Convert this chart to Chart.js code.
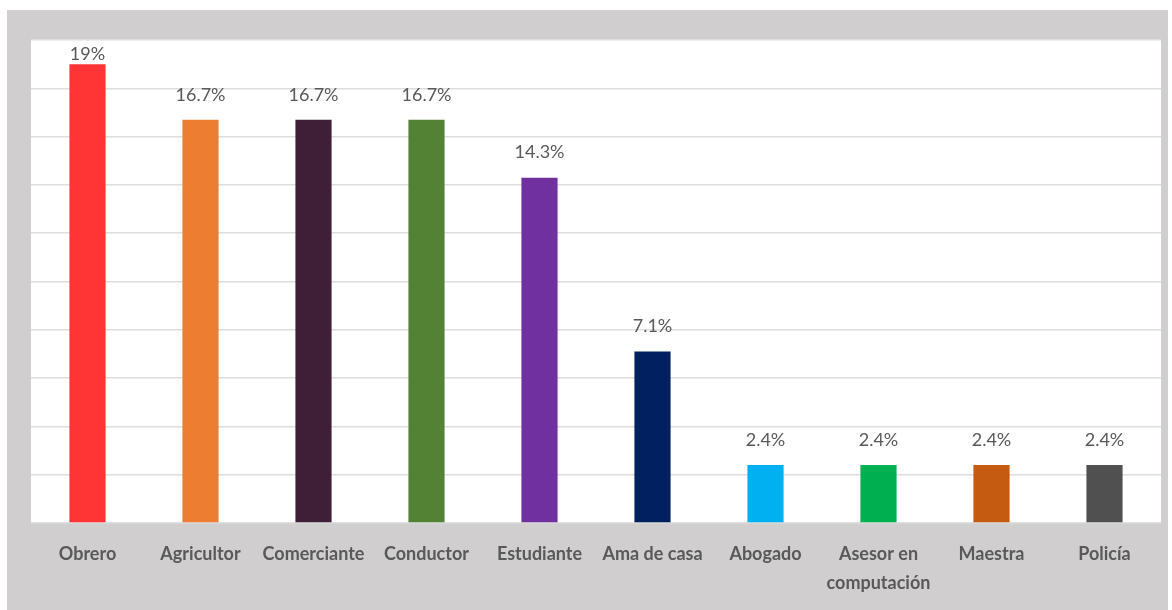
<!DOCTYPE html>
<html>
<head>
<meta charset="utf-8">
<script src="https://cdn.jsdelivr.net/npm/chart.js@4"></script>
<style>
  body { margin: 0; background: #fff; }
  #wrap { width: 1172px; height: 610px; }
</style>
</head>
<body>
<div id="wrap"><canvas id="chart" width="1172" height="610"></canvas></div>
<script>
const categories = ['Obrero', 'Agricultor', 'Comerciante', 'Conductor', 'Estudiante', 'Ama de casa', 'Abogado', ['Asesor en', 'computación'], 'Maestra', 'Policía'];
const percentages = [19, 16.7, 16.7, 16.7, 14.3, 7.1, 2.4, 2.4, 2.4, 2.4];
const barColors = ['#FF3535', '#ED7D31', '#3F1F38', '#548235', '#7030A0', '#002060', '#00B0F0', '#00B050', '#C55A11', '#505050'];

const textColor = '#595959';

// gray frame + white plot area
const framePlugin = {
  id: 'frame',
  beforeDraw(chart) {
    const ctx = chart.ctx;
    const a = chart.chartArea;
    ctx.save();
    ctx.fillStyle = '#ffffff';
    ctx.fillRect(0, 0, chart.width, chart.height);
    ctx.fillStyle = '#D0CECE';
    ctx.fillRect(7, 10, 1161, 600);
    ctx.fillStyle = '#ffffff';
    ctx.fillRect(a.left, a.top, a.right - a.left, a.bottom - a.top);
    ctx.restore();
  }
};

// value labels above bars
const valueLabels = {
  id: 'valueLabels',
  afterDatasetsDraw(chart) {
    const ctx = chart.ctx;
    const meta = chart.getDatasetMeta(0);
    ctx.save();
    ctx.font = '18px Lato';
    ctx.fillStyle = textColor;
    ctx.textAlign = 'center';
    ctx.textBaseline = 'middle';
    meta.data.forEach((bar, i) => {
      const y = Math.max(bar.y - 25, chart.chartArea.top + 14);
      ctx.fillText(percentages[i] + '%', bar.x, y);
    });
    ctx.restore();
  }
};

new Chart(document.getElementById('chart'), {
  type: 'bar',
  data: {
    labels: categories,
    datasets: [{
      data: percentages,
      backgroundColor: barColors,
      barPercentage: 0.32,
      categoryPercentage: 1
    }]
  },
  options: {
    responsive: false,
    animation: false,
    layout: { padding: { left: 31, right: 11, top: 40, bottom: 0 } },
    plugins: {
      legend: { display: false },
      tooltip: { enabled: false }
    },
    scales: {
      x: {
        grid: { display: false, drawTicks: false },
        border: { display: false },
        ticks: {
          color: textColor,
          padding: 17,
          maxRotation: 0,
          autoSkip: false,
          font: { family: 'Lato', size: 18, weight: 'bold', lineHeight: 1.6 }
        },
        afterFit(scale) { scale.height = 87; }
      },
      y: {
        min: 0,
        max: 20,
        ticks: { display: false, stepSize: 2 },
        grid: { color: '#DEDEDE', lineWidth: 1.5, drawTicks: false },
        border: { display: false },
        afterFit(scale) { scale.width = 0; }
      }
    }
  },
  plugins: [framePlugin, valueLabels]
});
</script>
</body>
</html>
